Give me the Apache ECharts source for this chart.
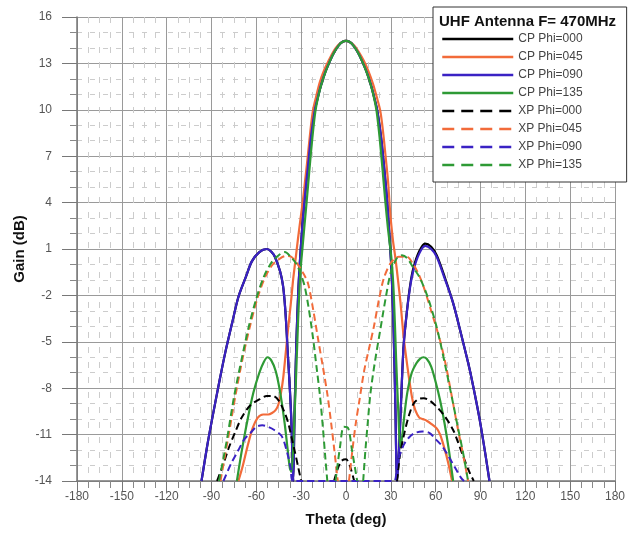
<!DOCTYPE html>
<html>
<head>
<meta charset="utf-8">
<script src="https://cdn.jsdelivr.net/npm/echarts@6/dist/echarts.min.js"></script>
<style>
  html, body { margin: 0; padding: 0; background: #fff; }
  #main { width: 628px; height: 540px; }
</style>
</head>
<body>
<div id="main"></div>
<script>
// theta (deg) / gain (dB); null = below -14, not drawn
var cp000Theta = [-96.7, -93, -89.6, -85, -80.8, -76, -72, -67, -63, -58, -53, -47.6, -42.1, -38.8, -36.6, -35.3,
  -34.5, -33.2, -31.8, -30.3, -28.8, -27.2, -25.5, -23.5, -21, -19, -17, -14, -11, -8, -5, -2.5, 0, 2.5, 5, 8, 11, 14,
  17, 19, 21, 23.5, 25.5, 27.2, 28.8, 30.5, 31.8, 33, 34.2,
  35.5, 37, 38.6, 40.8, 43, 45.2, 49, 52.9, 57, 60.7, 66, 71.7, 77, 82.8, 86, 89.4, 93, 96];
var cp000Gain = [-14, -11.8, -10, -7.7, -5.7, -3.7, -2.1, -0.8, 0.2, 0.8, 1.0, 0.5, -1.4, -6, -10, -14,
  -10, -5, -1.5, 1, 3, 4.7, 6.3, 8.2, 9.9, 10.75, 11.5, 12.4, 13.1, 13.7, 14.15, 14.38, 14.45, 14.38, 14.15, 13.7, 13.1, 12.4,
  11.5, 10.75, 9.9, 8.2, 6.3, 4.5, 2.3, -0.5, -4, -9, -14,
  -12, -8.5, -5.2, -3.0, -1.3, -0.2, 0.85, 1.35, 1.15, 0.6, -0.8, -2.5, -4.5, -6.8, -8.3, -10, -12.1, -14];

var cp045Theta = [-72, -69, -66, -62.5, -59, -55.4, -52, -49.5, -47, -45.4, -43.5, -42.1, -40.5, -38.8, -37, -35.5,
  -33.8, -32.2, -30.5, -29, -27.5, -26, -24.2, -22.2, -20, -17.5, -14.5, -11.5, -8.5, -5.5, -2.5, 0, 2.5, 5.5, 8.5, 12,
  15, 18, 20.5, 23, 25, 26.8, 28.2, 29.7, 31.5, 32.8, 34.2,
  36.4, 38.6, 40.8, 43, 44.6, 46.3, 49, 51.5, 54, 57, 60.7, 63, 65, 67.3, 69.5, 71];
var cp045Gain = [-14, -13, -11.8, -10.6, -9.9, -9.7, -9.7, -9.6, -9.4, -9.1, -8.3, -7.4, -5.9, -4.2, -2.6, -1.1,
  0.3, 1.6, 2.9, 4, 5.3, 6.6, 8.3, 9.9, 10.85, 11.8, 12.6, 13.2, 13.75, 14.15, 14.38, 14.45, 14.38, 14.15, 13.75, 13.15,
  12.5, 11.7, 10.85, 9.9, 8.4, 6.7, 5.3, 3.2, 1.5, 0.6, -0.5,
  -2.4, -4.7, -6.4, -7.9, -8.8, -9.4, -9.9, -10.0, -10.1, -10.3, -10.6, -11.0, -11.6, -12.4, -13.3, -14];

var cp090Theta = [-96.7, -93, -89.6, -85, -80.8, -76, -72, -67, -63, -58, -53, -47.6, -42.1, -38.8, -36.6, -35.3,
  -34.5, -33.2, -31.8, -30.3, -28.8, -27.2, -25.5, -23.5, -21, -19, -17, -14, -11, -8, -5, -2.5, 0, 2.5, 5, 8, 11, 14,
  17, 19, 21, 23.5, 25.5, 27.2, 28.8, 30.5, 31.8, 33, 34.2,
  35.5, 37, 38.6, 40.8, 43, 45.2, 49, 52.9, 57, 60.7, 66, 71.7, 77, 82.8, 86, 89.4, 93, 96];
var cp090Gain = [-14, -11.8, -10, -7.7, -5.7, -3.7, -2.1, -0.8, 0.2, 0.8, 1.0, 0.5, -1.4, -6, -10, -14,
  -10, -5, -1.5, 1, 3, 4.7, 6.3, 8.2, 9.9, 10.75, 11.5, 12.4, 13.1, 13.7, 14.15, 14.38, 14.45, 14.38, 14.15, 13.7, 13.1, 12.4,
  11.5, 10.75, 9.9, 8.2, 6.3, 4.5, 2.3, -0.5, -4, -9, -14,
  -12, -8.5, -5.2, -3.0, -1.4, -0.35, 0.7, 1.2, 1.0, 0.5, -0.9, -2.5, -4.5, -6.8, -8.3, -10, -12.1, -14];

var cp135Theta = [-73, -70, -66, -62, -58, -55, -52.5, -50, -47, -44, -41, -39, -37.5, -36.5, -35, -33.5, -32, -30.5,
  -29, -27.7, -26.2, -24.5, -22.5, -20.5, -18.5, -16, -13.5, -11, -8, -5, -2.5, 0, 2.5, 5, 8, 11, 13.5, 16, 18.5,
  20.5, 22.5, 24.5, 26.2, 28, 30.5, 32, 33.5, 35, 36.3, 37.5, 39, 41, 44, 47,
  49.5, 51.8, 54, 57, 60, 63, 66, 69, 71.7];
var cp135Gain = [-14, -12.2, -10.1, -8.3, -7.0, -6.3, -6.0, -6.2, -6.9, -8.3, -10.3, -12.0, -13.2, -13.4, -11, -7.5, -3.5, -0.5,
  1.2, 2.6, 4.2, 6.1, 8.2, 9.9, 10.9, 11.8, 12.5, 13.1, 13.7, 14.15, 14.38, 14.45, 14.38, 14.15, 13.7, 13.1, 12.5, 11.8, 10.9,
  9.9, 8.2, 6.1, 4.2, 2.4, 0.3, -2, -6, -9.5, -11.8, -11.2, -9.8, -8.3, -7.0, -6.4,
  -6.1, -6.0, -6.1, -6.6, -7.6, -8.8, -10.3, -12.1, -14];

var xp000Theta = [-86.3, -82, -78.6, -74, -69.8, -64, -57.6, -53, -49, -45, -41, -38.5, -36.6, -34, -32, -30,
  -20, -8, -5.5, -3, 0, 2.5, 5.5, 20,
  34.2, 36, 38.6, 42, 45.2, 48.5, 52, 56, 60.7, 66, 71.7, 75, 78.4, 82, 85.5];
var xp000Gain = [-14, -12.9, -11.9, -10.8, -9.9, -9.1, -8.7, -8.5, -8.5, -8.8, -9.6, -10.3, -11.1, -12.2, -13.1, -14,
  null, -14, -13.2, -12.7, -12.6, -13.0, -14, null,
  -14, -12.4, -11.1, -9.8, -9.0, -8.7, -8.65, -8.8, -9.2, -9.8, -10.7, -11.5, -12.4, -13.3, -14];

var xp045Theta = [-84, -79, -74, -69, -64, -59, -54, -49, -44, -40, -36.6, -33, -29, -25.5, -22, -18.9, -15.5,
  -12.3, -10, -7.8, -5.5, -2, 2, 4.3, 6.5, 8.8, 12.1, 15.5, 18.7, 22, 25.3, 30, 35.3, 40.8, 45, 48.5, 51.8, 57,
  62.9, 67, 71.7, 75, 78.4, 81.7];
var xp045Gain = [-14, -11.3, -8.5, -6.0, -3.9, -2.1, -0.8, 0.0, 0.4, 0.55, 0.5, 0.1, -0.5, -1.2, -2.9, -4.7, -6.6,
  -8.5, -10.2, -12, -14, null, -14, -12, -10.3, -8.9, -6.9, -5.4, -4.0, -2.3, -0.9, 0.1, 0.5, 0.5, 0.0, -0.6, -1.4, -3.0,
  -4.9, -6.6, -9.0, -10.7, -12.3, -14];

var xp090Theta = [-82, -77, -72, -68, -64, -60, -56, -52, -48, -43, -39, -37, -35.5, 32, 34, 36, 39, 42, 46, 51,
  56, 60, 64, 67.3, 71, 74, 77, 79];
var xp090Gain = [-14, -12.9, -12.0, -11.3, -10.9, -10.5, -10.4, -10.5, -10.7, -11.1, -12.3, -13.2, -14, -14, -13.0, -12.3,
  -11.6, -11.2, -10.9, -10.8, -10.9, -11.3, -11.7, -12.2, -12.8, -13.3, -13.8, -14];

var xp135Theta = [-85, -80, -75, -70, -65, -60, -55, -50, -45, -41, -37, -33, -30, -27.7, -25, -22, -19.5, -17.5,
  -15.5, -14, -12.5, -10, -7, -4, -1.5, 1.5, 4, 7.5, 9.5, 11.5, 13, 14.5, 16.4, 19.5, 23, 26.5, 30, 34, 37.5, 41, 45,
  49.6, 55, 60, 63, 67, 71.7, 75, 78.4, 81.7];
var xp135Gain = [-14, -11.5, -8.6, -6.2, -4.0, -2.2, -0.8, 0.1, 0.6, 0.8, 0.5, 0.0, -0.7, -1.4, -2.8, -4.8, -6.8, -8.4,
  -10.5, -12.3, -14, null, -14, -11.8, -10.5, -10.6, -12, -14, null, -14, -12, -10.3, -8.3, -6.2, -4.2, -2.2, -0.5, 0.4,
  0.6, 0.4, -0.2, -0.9, -2.2, -3.8, -5, -6.8, -9, -10.6, -12.2, -14];

var seriesNames = ['CP Phi=000', 'CP Phi=045', 'CP Phi=090', 'CP Phi=135',
  'XP Phi=000', 'XP Phi=045', 'XP Phi=090', 'XP Phi=135'];
var seriesTheta = [cp000Theta, cp045Theta, cp090Theta, cp135Theta, xp000Theta, xp045Theta, xp090Theta, xp135Theta];
var seriesGain = [cp000Gain, cp045Gain, cp090Gain, cp135Gain, xp000Gain, xp045Gain, xp090Gain, xp135Gain];
var colors = ['#000000', '#f26b3a', '#3a22c4', '#2e9a35', '#000000', '#f26b3a', '#3a22c4', '#2e9a35'];

var font = 'Liberation Sans, Arial, sans-serif';

function zip(t, g) {
  var out = [];
  for (var i = 0; i < t.length; i++) out.push([t[i], g[i]]);
  return out;
}

var series = seriesNames.map(function (name, i) {
  return {
    name: name,
    type: 'line',
    data: zip(seriesTheta[i], seriesGain[i]),
    symbol: 'none',
    smooth: 0.3,
    connectNulls: false,
    clip: true,
    color: colors[i],
    lineStyle: {
      color: colors[i],
      width: i < 4 ? 2.2 : 2,
      type: i < 4 ? 'solid' : [7, 4]
    }
  };
});

var legendData = seriesNames.map(function (name, i) {
  return {
    name: name,
    lineStyle: { width: 2.5, type: i < 4 ? 'solid' : [12, 7] }
  };
});

var chart = echarts.init(document.getElementById('main'));
chart.setOption({
  animation: false,
  backgroundColor: '#fff',
  title: {
    text: 'UHF Antenna F= 470MHz',
    left: 439,
    top: 14,
    padding: 0,
    textStyle: { fontFamily: font, fontSize: 15, fontWeight: 'bold', color: '#111' }
  },
  legend: {
    orient: 'vertical',
    left: 433,
    top: 7,
    itemWidth: 71,
    itemHeight: 12,
    itemGap: 6,
    padding: [26, 44, 11, 8],
    backgroundColor: '#fff',
    borderColor: '#333',
    borderWidth: 1,
    borderRadius: 0,
    itemStyle: { opacity: 0 },
    lineStyle: { width: 2.5 },
    textStyle: { fontFamily: font, fontSize: 12, color: '#444' },
    data: legendData
  },
  grid: { left: 77, right: 8, top: 17, bottom: 59 },
  xAxis: {
    type: 'value',
    min: -180,
    max: 180,
    interval: 30,
    name: 'Theta (deg)',
    nameLocation: 'middle',
    nameGap: 31,
    nameMoveOverlap: false,
    nameTextStyle: { fontFamily: font, fontSize: 15, fontWeight: 'bold', color: '#111' },
    axisLine: { onZero: false, lineStyle: { color: '#777', width: 1.5 } },
    axisTick: { length: 11, lineStyle: { color: '#777' } },
    minorTick: { show: true, splitNumber: 4, length: 7, lineStyle: { color: '#888' } },
    axisLabel: { margin: 10, fontFamily: font, fontSize: 12, color: '#555' },
    splitLine: { lineStyle: { color: '#9a9a9a' } },
    minorSplitLine: { show: true, lineStyle: { color: '#cccccc', type: [6, 9] } }
  },
  yAxis: {
    type: 'value',
    min: -14,
    max: 16,
    interval: 3,
    name: 'Gain (dB)',
    nameLocation: 'middle',
    nameGap: 50,
    nameMoveOverlap: false,
    nameTextStyle: { fontFamily: font, fontSize: 15, fontWeight: 'bold', color: '#111' },
    axisLine: { show: true, onZero: false, lineStyle: { color: '#777', width: 1.5 } },
    axisTick: { show: true, length: 15, lineStyle: { color: '#777' } },
    minorTick: { show: true, splitNumber: 3, length: 7, lineStyle: { color: '#888' } },
    axisLabel: { margin: 25, fontFamily: font, fontSize: 12, color: '#555' },
    splitLine: { lineStyle: { color: '#9a9a9a' } },
    minorSplitLine: { show: true, lineStyle: { color: '#cccccc', type: [5, 8] } }
  },
  series: series
});
</script>
</body>
</html>
